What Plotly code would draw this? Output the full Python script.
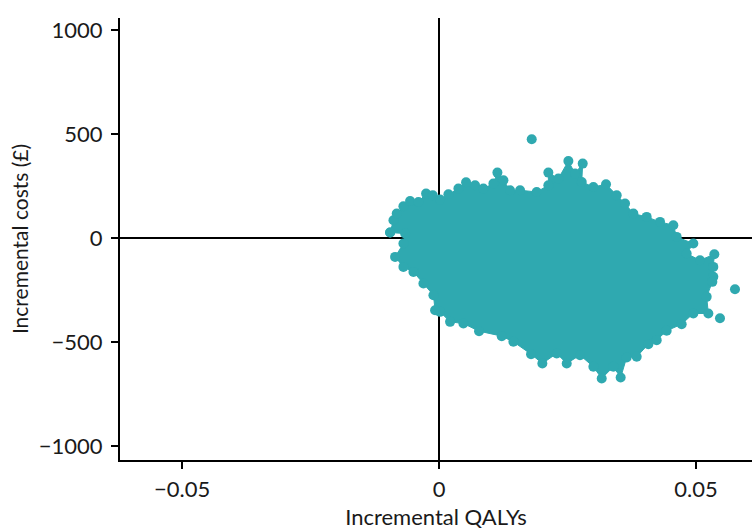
import plotly.graph_objects as go

# Outline of the dense bootstrap cloud (incremental QALYs, incremental costs in £),
# traced clockwise from the left-most replicate
cloud_qaly = [
    -0.00953, -0.00888, -0.00824, -0.00694, -0.00564, -0.00402, -0.00253, -0.00123,
    0.00019, 0.00182, 0.00376, 0.00525, 0.00700, 0.00862, 0.01057, 0.01135,
    0.01252, 0.01381, 0.01576, 0.01900, 0.02127, 0.02127, 0.02322, 0.02516,
    0.02646, 0.02795, 0.02776, 0.03003, 0.03249, 0.03457, 0.03619, 0.03781,
    0.04040, 0.04300, 0.04559, 0.04624, 0.04948, 0.04818, 0.05078, 0.05357,
    0.05337, 0.05337, 0.05318, 0.05208, 0.05240, 0.04948, 0.04721, 0.04429,
    0.04235, 0.04073, 0.03846, 0.03651, 0.03534, 0.03392, 0.03165, 0.03003,
    0.02743, 0.02484, 0.02289, 0.02010, 0.01790, 0.01446, 0.01219, 0.00778,
    0.00473, 0.00214, 0.00019, -0.00078, -0.00110, -0.00305, -0.00499, -0.00694,
    -0.00856, -0.00694, -0.00661,
]
cloud_cost = [
    27.2, 86.4, 118.4, 153.6, 179.1, 174.3, 214.3, 206.3,
    185.5, 211.1, 238.3, 268.7, 254.3, 238.3, 262.3, 315.1,
    278.3, 230.3, 230.3, 222.3, 254.3, 315.1, 286.3, 371.1,
    310.3, 358.3, 270.3, 246.3, 259.1, 206.3, 166.4, 118.4,
    102.4, 78.4, 62.4, 6.4, -25.6, -73.6, -105.6, -76.8,
    -137.6, -185.5, -209.5, -281.5, -361.5, -361.5, -412.7, -444.7,
    -489.4, -508.6, -569.4, -572.6, -668.6, -617.4, -673.4, -617.4,
    -561.4, -601.4, -553.4, -601.4, -556.6, -497.4, -470.2, -446.3,
    -409.5, -401.5, -353.5, -345.5, -273.5, -217.5, -161.6, -137.6,
    -89.6, -25.6, 22.4,
]

# Isolated replicates lying outside the main cloud
outlier_qaly = [0.01803, 0.05759, 0.05467]
outlier_cost = [475.0, -244.7, -383.9]

x_ticks = [-0.05, 0, 0.05]
x_labels = ["\u22120.05", "0", "0.05"]
y_ticks = [-1000, -500, 0, 500, 1000]
y_labels = ["\u22121000", "\u2212500", "0", "500", "1000"]

TEAL = "#2fa9b0"
FONT = "Lato, 'Open Sans', sans-serif"

fig = go.Figure()

# Filled body of the cloud, with replicate markers along its edge
fig.add_trace(go.Scatter(
    x=cloud_qaly + cloud_qaly[:1],
    y=cloud_cost + cloud_cost[:1],
    mode="lines+markers",
    fill="toself",
    fillcolor=TEAL,
    line=dict(color=TEAL, width=1),
    marker=dict(color=TEAL, size=10),
    hoverinfo="skip",
    showlegend=False,
))

fig.add_trace(go.Scatter(
    x=outlier_qaly,
    y=outlier_cost,
    mode="markers",
    marker=dict(color=TEAL, size=10),
    showlegend=False,
))

axis_common = dict(
    showline=True,
    linecolor="black",
    linewidth=2,
    ticks="outside",
    ticklen=7,
    tickwidth=1.5,
    tickcolor="black",
    showgrid=False,
    zeroline=True,
    zerolinecolor="black",
    zerolinewidth=1.5,
    tickfont=dict(family=FONT, size=22, color="#1a1a1a"),
)

fig.update_layout(
    width=752,
    height=530,
    margin=dict(l=120, r=0, t=18, b=70),
    plot_bgcolor="white",
    paper_bgcolor="white",
    font=dict(family=FONT, color="#1a1a1a"),
    xaxis=dict(
        axis_common,
        range=[-0.0621, 0.0609],
        tickvals=x_ticks,
        ticktext=x_labels,
        ticklabelstandoff=2,
        title=dict(text="Incremental QALYs", font=dict(family=FONT, size=22), standoff=8),
    ),
    yaxis=dict(
        axis_common,
        range=[-1065, 1057.6],
        tickvals=y_ticks,
        ticktext=y_labels,
        ticklabelstandoff=4,
        title=dict(text="Incremental costs (£)", font=dict(family=FONT, size=21), standoff=4),
    ),
)

fig.write_html("out.html")
